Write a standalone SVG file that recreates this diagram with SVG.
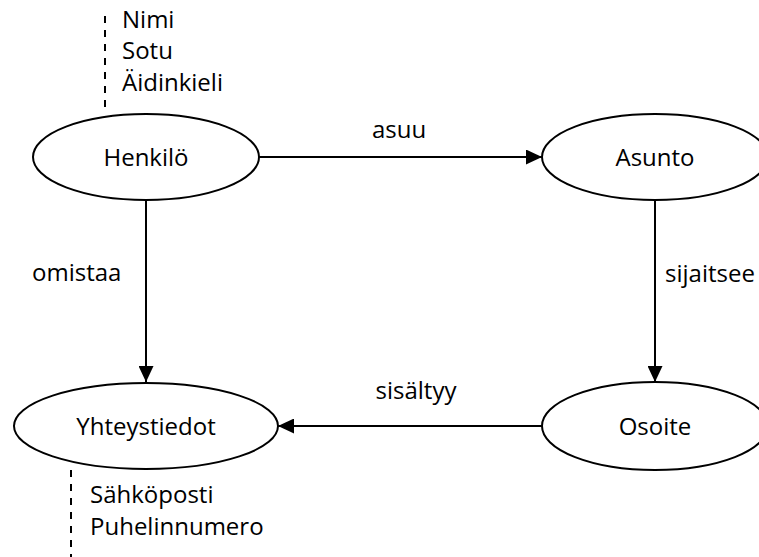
<svg xmlns="http://www.w3.org/2000/svg" width="759" height="557" viewBox="0 0 759 557">
  <style>
    .node ellipse { fill: #ffffff; stroke: #000000; stroke-width: 2; }
    text { font-family: "Open Sans", "Noto Sans", "Liberation Sans", sans-serif; font-size: 24px; fill: #000000; }
    .label { text-anchor: middle; }
    .edge { stroke: #000000; stroke-width: 2; fill: none; }
    .attr-line { stroke: #000000; stroke-width: 2; stroke-dasharray: 7 7; fill: none; }
  </style>
  <defs>
    <marker id="arrow" markerWidth="16" markerHeight="15" refX="16" refY="7.5" orient="auto" markerUnits="userSpaceOnUse">
      <path d="M0,0 L16,7.5 L0,15 Z" fill="#000000"/>
    </marker>
  </defs>
  <rect width="759" height="557" fill="#ffffff"/>

  <!-- connectors -->
  <g id="connectors">
    <line class="edge" x1="259" y1="157" x2="542" y2="157" marker-end="url(#arrow)"/>
    <line class="edge" x1="655" y1="201" x2="655" y2="382" marker-end="url(#arrow)"/>
    <line class="edge" x1="146" y1="201" x2="146" y2="382" marker-end="url(#arrow)"/>
    <line class="edge" x1="542" y1="426" x2="278" y2="426" marker-end="url(#arrow)"/>
    <text x="399" y="138" class="label">asuu</text>
    <text x="665" y="282">sijaitsee</text>
    <text x="32" y="281">omistaa</text>
    <text x="416" y="399" class="label">sisältyy</text>
  </g>

  <!-- attribute lists -->
  <g id="henkilo-attrs">
    <line class="attr-line" x1="105" y1="16" x2="105" y2="110"/>
    <text x="122" y="28">Nimi</text>
    <text x="122" y="59">Sotu</text>
    <text x="122" y="91">Äidinkieli</text>
  </g>
  <g id="yhteystiedot-attrs">
    <line class="attr-line" x1="71" y1="470" x2="71" y2="557"/>
    <text x="90" y="503">Sähköposti</text>
    <text x="90" y="535">Puhelinnumero</text>
  </g>

  <!-- nodes -->
  <g id="henkilo" class="node">
    <ellipse cx="146" cy="157" rx="113" ry="43"/>
    <text x="146" y="166" class="label">Henkilö</text>
  </g>
  <g id="asunto" class="node">
    <ellipse cx="655" cy="157" rx="113" ry="43"/>
    <text x="655" y="166" class="label">Asunto</text>
  </g>
  <g id="yhteystiedot" class="node">
    <ellipse cx="146" cy="426" rx="132" ry="43"/>
    <text x="146" y="435" class="label">Yhteystiedot</text>
  </g>
  <g id="osoite" class="node">
    <ellipse cx="655" cy="426" rx="113" ry="44"/>
    <text x="655" y="435" class="label">Osoite</text>
  </g>
</svg>
